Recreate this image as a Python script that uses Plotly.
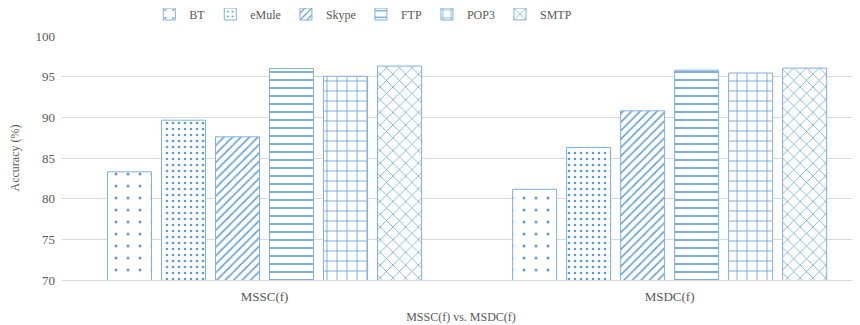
import plotly.graph_objects as go

categories = ["MSSC(f)", "MSDC(f)"]
series_names = ["BT", "eMule", "Skype", "FTP", "POP3", "SMTP"]
bt = [83.3, 81.15]
emule = [89.65, 86.3]
skype = [87.6, 90.8]
ftp = [96.0, 95.8]
pop3 = [95.05, 95.45]
smtp = [96.3, 96.05]
values = [bt, emule, skype, ftp, pop3, smtp]

patterns = [
    dict(shape=".", size=12, solidity=0.05),
    dict(shape=".", size=6, solidity=0.15),
    dict(shape="/", size=6, solidity=0.25),
    dict(shape="-", size=8, solidity=0.2),
    dict(shape="+", size=10, solidity=0.15),
    dict(shape="x", size=9, solidity=0.15),
]

blue = "#5B9BD5"
FF = "Times New Roman"
fig = go.Figure()
for name, vals, pat in zip(series_names, values, patterns):
    p = dict(pat)
    p.update(fgcolor=blue, bgcolor="white", fillmode="replace")
    fig.add_trace(go.Bar(
        name=name, x=categories, y=vals,
        marker=dict(color="white", line=dict(color="#7FB0DE", width=1), pattern=p),
    ))

fig.update_layout(
    width=852, height=317,
    margin=dict(l=54, r=0, t=28, b=45),
    paper_bgcolor="white", plot_bgcolor="white",
    barmode="group", bargap=0.2, bargroupgap=0.185,
    font=dict(family=FF, size=13, color="#595959"),
    showlegend=True,
    legend=dict(orientation="h", x=0.417, xanchor="center", xref="container",
                y=0.981, yanchor="middle", yref="container",
                font=dict(family=FF, size=12, color="#595959"), itemwidth=30,
                traceorder="normal", tracegroupgap=0),
    xaxis=dict(range=[-0.5, 1.47], showgrid=False, showline=True, linecolor="#D9D9D9",
               ticks="", automargin=False, ticklabelstandoff=4,
               tickfont=dict(family=FF, size=13, color="#595959"),
               title=dict(text="MSSC(f) vs. MSDC(f)", font=dict(family=FF, size=12, color="#595959"), standoff=10)),
    yaxis=dict(range=[70, 100], dtick=5, showgrid=True, gridcolor="#D9D9D9", zeroline=False,
               ticks="", automargin=False, tickfont=dict(family=FF, size=13, color="#595959"),
               ticklabelstandoff=6,
               title=dict(text="Accuracy (%)", font=dict(family=FF, size=12, color="#595959"), standoff=14)),
)
fig.write_html("out.html")
